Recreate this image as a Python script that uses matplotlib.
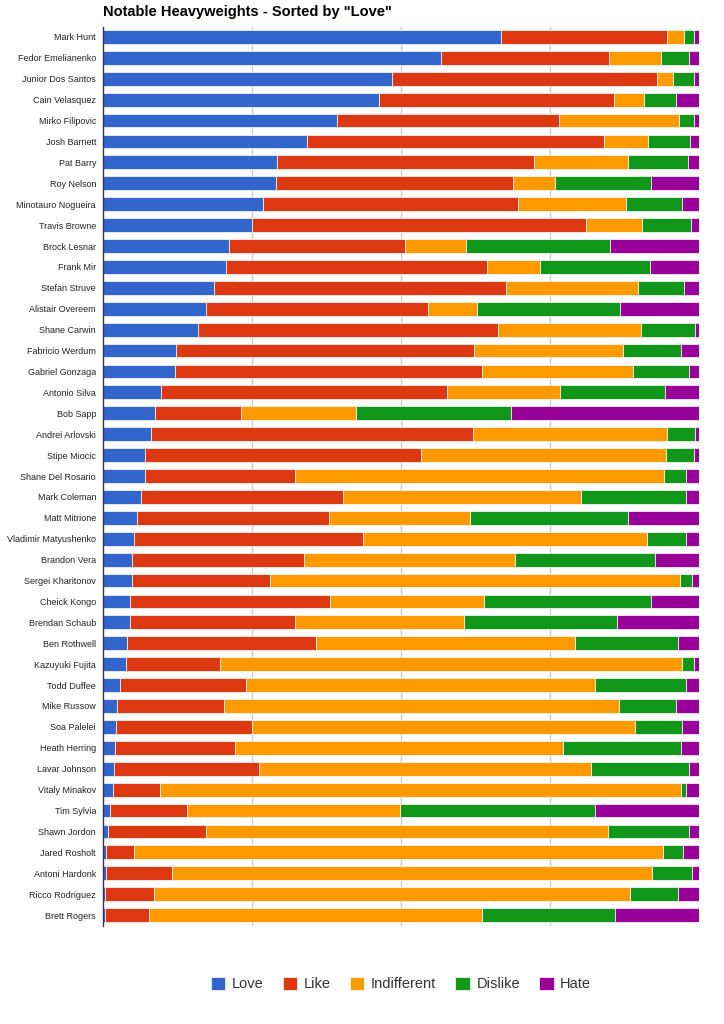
import numpy as np
import matplotlib.pyplot as plt

fighters = ["Mark Hunt", "Fedor Emelianenko", "Junior Dos Santos", "Cain Velasquez",
            "Mirko Filipovic", "Josh Barnett", "Pat Barry", "Roy Nelson",
            "Minotauro Nogueira", "Travis Browne", "Brock Lesnar", "Frank Mir",
            "Stefan Struve", "Alistair Overeem", "Shane Carwin", "Fabricio Werdum",
            "Gabriel Gonzaga", "Antonio Silva", "Bob Sapp", "Andrei Arlovski",
            "Stipe Miocic", "Shane Del Rosario", "Mark Coleman", "Matt Mitrione",
            "Vladimir Matyushenko", "Brandon Vera", "Sergei Kharitonov", "Cheick Kongo",
            "Brendan Schaub", "Ben Rothwell", "Kazuyuki Fujita", "Todd Duffee",
            "Mike Russow", "Soa Palelei", "Heath Herring", "Lavar Johnson",
            "Vitaly Minakov", "Tim Sylvia", "Shawn Jordon", "Jared Rosholt",
            "Antoni Hardonk", "Ricco Rodriguez", "Brett Rogers"]

love = [66.8, 56.7, 48.5, 46.3, 39.3, 34.2, 29.3, 29.0, 26.8, 25.0, 21.1, 20.7,
        18.7, 17.3, 16.0, 12.2, 12.1, 9.8, 8.7, 8.1, 7.0, 7.0, 6.3, 5.7, 5.2, 4.8,
        4.8, 4.5, 4.5, 4.0, 3.9, 2.9, 2.4, 2.2, 2.0, 1.8, 1.6, 1.2, 0.9, 0.5, 0.5,
        0.4, 0.4]
like = [27.9, 28.2, 44.5, 39.6, 37.2, 49.7, 43.1, 39.8, 42.9, 56.0, 29.7, 43.8,
        49.0, 37.3, 50.2, 50.1, 51.6, 48.0, 14.5, 53.9, 46.3, 25.2, 33.9, 32.2,
        38.5, 29.0, 23.2, 33.7, 27.7, 31.7, 15.8, 21.1, 18.0, 22.8, 20.1, 24.4,
        8.0, 12.9, 16.3, 4.7, 11.1, 8.2, 7.3]
indifferent = [2.9, 8.7, 2.7, 4.9, 20.1, 7.5, 15.7, 7.1, 18.0, 9.4, 10.1, 8.8,
               22.1, 8.1, 24.0, 24.9, 25.3, 18.8, 19.3, 32.7, 41.0, 62.0, 40.0,
               23.8, 47.5, 35.4, 68.8, 25.8, 28.4, 43.5, 77.5, 58.5, 66.2, 64.3,
               55.0, 55.6, 87.3, 35.6, 67.5, 88.8, 80.5, 79.9, 55.9]
dislike = [1.7, 4.7, 3.5, 5.4, 2.5, 7.0, 10.1, 16.0, 9.5, 8.3, 24.2, 18.4, 7.7,
           24.0, 9.1, 9.8, 9.5, 17.7, 26.0, 4.7, 4.8, 3.7, 17.7, 26.4, 6.7, 23.4,
           2.1, 28.0, 25.6, 17.2, 2.1, 15.4, 9.7, 7.9, 19.9, 16.5, 0.9, 32.7, 13.6,
           3.3, 6.7, 7.9, 22.3]
hate = [0.8, 1.7, 0.8, 3.9, 0.8, 1.5, 1.9, 8.1, 2.8, 1.3, 15.0, 8.3, 2.6, 13.3,
        0.6, 3.0, 1.6, 5.7, 31.5, 0.6, 0.8, 2.1, 2.1, 12.0, 2.1, 7.4, 1.1, 8.1,
        13.8, 3.6, 0.8, 2.1, 3.8, 2.9, 3.0, 1.7, 2.2, 17.5, 1.7, 2.7, 1.2, 3.6,
        14.1]

series = [("Love", love, "#3366CC"), ("Like", like, "#DC3912"),
          ("Indifferent", indifferent, "#FF9900"), ("Dislike", dislike, "#109618"),
          ("Hate", hate, "#990099")]

data = np.array([s[1] for s in series], dtype=float)
data = data / data.sum(axis=0) * 100

fig = plt.figure(figsize=(7.24, 10.24), dpi=100)
ax = fig.add_axes([103 / 724, 1 - 925.5 / 1024, 596 / 724, 899 / 1024])

y = np.arange(len(fighters))
left = np.zeros(len(fighters))
handles = []
for (name, _, color), vals in zip(series, data):
    h = ax.barh(y, vals, left=left, height=0.66, color=color,
                edgecolor="white", linewidth=0.5, label=name, zorder=2)
    handles.append(h)
    left += vals

ax.set_xlim(0, 100)
ax.set_ylim(len(fighters) - 0.5, -0.5)
ax.set_yticks(y)
ax.set_yticklabels(fighters, fontsize=6.5,
                   family=["Liberation Sans Narrow", "Liberation Sans", "DejaVu Sans"])
ax.tick_params(axis="y", length=0, pad=5, colors="#222222")
ax.set_xticks([25, 50, 75, 100])
ax.tick_params(axis="x", length=0, labelbottom=False)
ax.grid(axis="x", color="#cccccc", linewidth=1, zorder=0)
for s in ["top", "bottom", "right"]:
    ax.spines[s].set_visible(False)
ax.spines["left"].set_color("#333355")
ax.spines["left"].set_linewidth(1)

fig.text(103 / 724, 1 - 12 / 1024, 'Notable Heavyweights - Sorted by "Love"',
         fontsize=10.5, fontweight="bold", ha="left", va="center",
         family=["Liberation Sans", "DejaVu Sans"])

leg = fig.legend(handles=handles, loc="center", bbox_to_anchor=(401 / 724, 1 - 984 / 1024),
                 ncol=5, frameon=False, handlelength=1.0, handleheight=1.0,
                 columnspacing=1.3, handletextpad=0.45,
                 prop={"family": ["Liberation Sans", "DejaVu Sans"], "size": 10.5})
for t in leg.get_texts():
    t.set_color("#333333")

fig.savefig("out.png", dpi=100)
